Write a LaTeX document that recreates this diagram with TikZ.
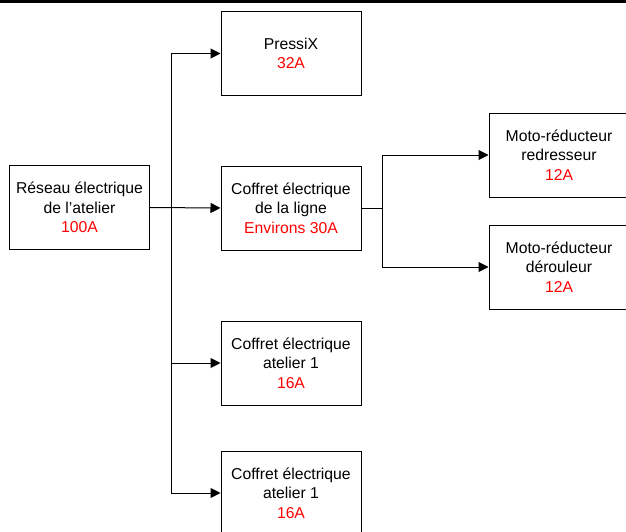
\documentclass[tikz,border=0pt]{standalone}
\usepackage{fontspec}
\setmainfont{Liberation Sans}
\usetikzlibrary{arrows.meta}

\tikzset{
    box/.style={draw, line width=0.75pt, minimum width=105pt, minimum height=63pt,
        align=center, font=\fontsize{11.8}{14.6}\selectfont, inner sep=0pt},
    feed/.style={line width=0.75pt, -{Triangle[length=7.5pt, width=7.5pt]}},
    wire/.style={line width=0.75pt},
}
\newcommand{\amps}[1]{\textcolor{red}{#1}}

\begin{document}
\begin{tikzpicture}[x=0.75pt, y=-0.75pt]
    % Frame (pixel units, y downwards)
    \useasboundingbox (0,0) rectangle (626,532);
    \clip (0,0) rectangle (626,532);
    \draw[line width=4.5pt] (0,0) -- (626,0);

    % Boxes
    \node[box] (reseau)   at (79.5,207.5) {Réseau électrique\\de l’atelier\\\amps{100A}};
    \node[box] (pressix)  at (291,53.5)   {PressiX\\\amps{32A}};
    \node[box] (coffret)  at (291,208)    {Coffret électrique\\de la ligne\\\amps{Environs 30A}};
    \node[box] (atelierA) at (291,363)    {Coffret électrique\\atelier 1\\\amps{16A}};
    \node[box] (atelierB) at (291,493)    {Coffret électrique\\atelier 1\\\amps{16A}};
    \node[box] (redress)  at (559,155)    {Moto-réducteur\\redresseur\\\amps{12A}};
    \node[box] (deroul)   at (559,267)    {Moto-réducteur\\dérouleur\\\amps{12A}};

    % Split points of the feeders
    \coordinate (split)  at (171,208);
    \coordinate (split2) at (382,208);

    % Main feeder
    \draw[feed] (reseau.east) -- (coffret.west);
    \draw[feed] (split) |- (pressix.west);
    \draw[feed] (split) |- (atelierA.west);
    \draw[feed] (split) |- (atelierB.west);

    % Line feeder
    \draw[wire] (coffret.east) -- (split2);
    \draw[feed] (split2) |- (redress.west);
    \draw[feed] (split2) |- (deroul.west);
\end{tikzpicture}
\end{document}
